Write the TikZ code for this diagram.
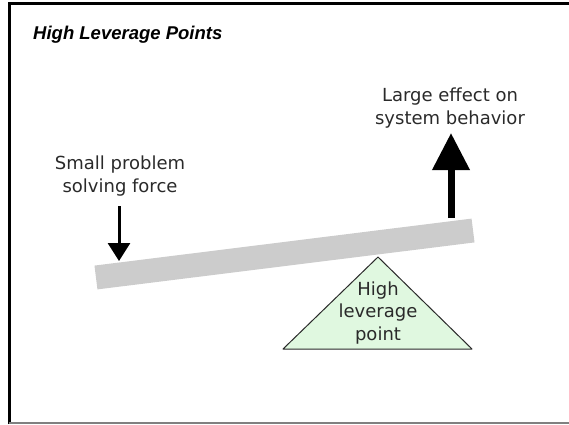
\documentclass[tikz,border=0pt]{standalone}
\usepackage{fontspec}
\setmainfont{DejaVu Sans}
\newfontfamily\headfont{Liberation Sans}
\usetikzlibrary{arrows.meta}
\definecolor{beamgray}{HTML}{CCCCCC}
\definecolor{fulcrumgreen}{HTML}{E0F8E0}
\definecolor{textgray}{HTML}{2A2A2A}

\begin{document}
\begin{tikzpicture}[
        x=1pt, y=-1pt,
        label/.style={align=center, text=textgray, inner sep=0pt, font=\fontsize{18}{22.5}\selectfont},
        beam/.style={rectangle, fill=beamgray, minimum width=380pt, minimum height=24pt, inner sep=0pt, rotate=7.1},
        fulcrum/.style={draw=textgray, fill=fulcrumgreen, line width=1pt, line join=round},
        pusharrow/.style={line width=3pt, -{Triangle[width=22pt,length=18pt]}},
        liftarrow/.style={line width=7pt, -{Triangle[width=36pt,length=37pt]}}
    ]
        \useasboundingbox (0,0) rectangle (569,424);

        % Frame
        \draw[line width=3pt] (9,424) -- (9,3) -- (569,3);
        \draw[gray, line width=1.5pt] (9,423) -- (569,423);

        \node[anchor=west, inner sep=0pt, font=\headfont\bfseries\itshape\fontsize{18.5}{22}\selectfont] (title) at (33,35) {High Leverage Points};

        % Lever and fulcrum
        \node[beam] (lever) at (284.5,254) {};
        \draw[fulcrum] (378,257) -- (472,349) -- (283,349) -- cycle;
        \node[label] (point) at (378,313) {High\\leverage\\point};

        % Forces
        \node[label] (small) at (120,176) {Small problem\\solving force};
        \node[label] (large) at (450,108) {Large effect on\\system behavior};
        \coordinate (pushtop) at (119,206);
        \coordinate (pushtip) at (119,261);
        \coordinate (liftfoot) at (451,218);
        \coordinate (lifttip) at (451,133);
        \draw[pusharrow] (pushtop) -- (pushtip);
        \draw[liftarrow] (liftfoot) -- (lifttip);
    \end{tikzpicture}
\end{document}
